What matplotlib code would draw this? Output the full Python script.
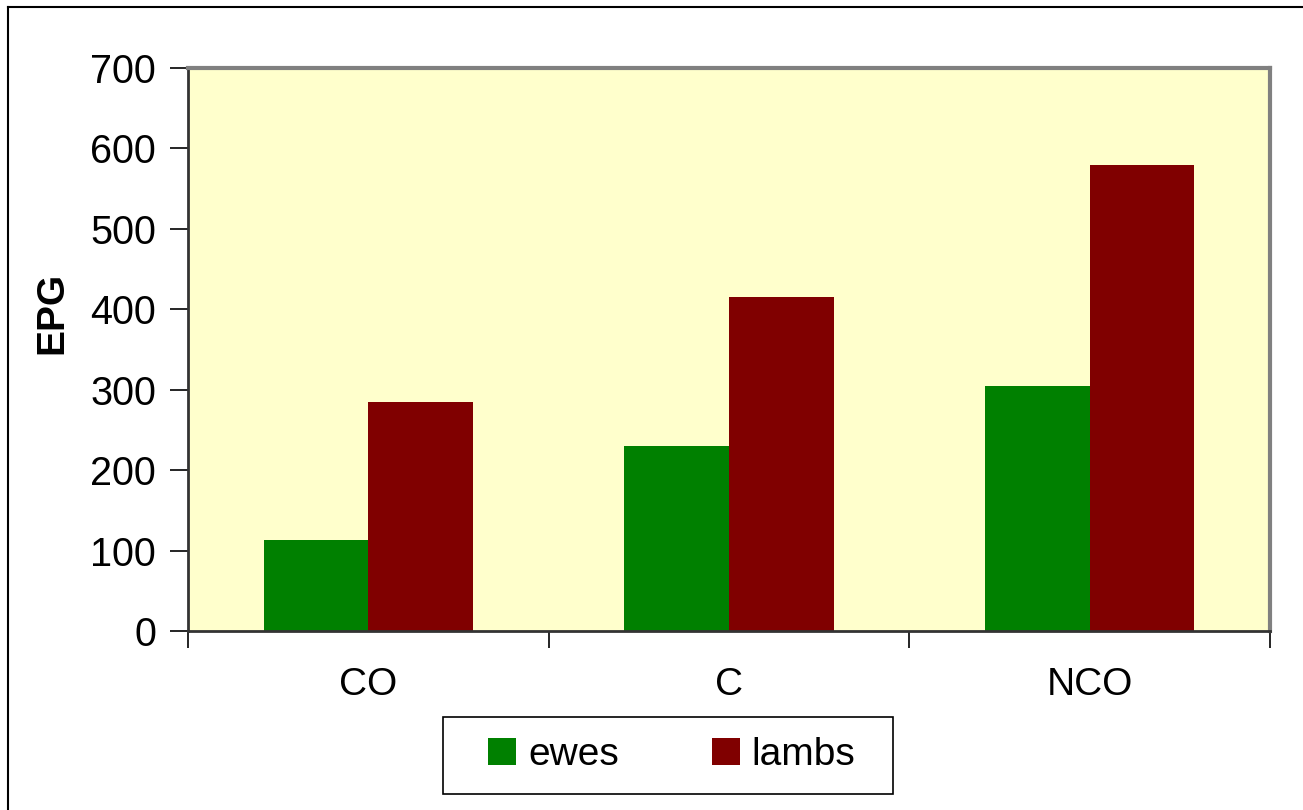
import matplotlib.pyplot as plt
from matplotlib.lines import Line2D
from matplotlib.patches import Rectangle
import numpy as np

plt.rcParams['font.family'] = ['Liberation Sans', 'DejaVu Sans']

categories = ["CO", "C", "NCO"]
ewes = [113, 230, 305]
lambs = [285, 415, 579]
yticks = [0, 100, 200, 300, 400, 500, 600, 700]

W, H = 1303, 810
fig = plt.figure(figsize=(W / 100, H / 100), dpi=100)
ax = fig.add_axes([188 / W, 1 - 631 / H, (1270 - 188) / W, (631 - 68) / H])
ax.set_facecolor("#FFFFCC")

x = np.arange(len(categories))
bw = 0.29
ax.bar(x - bw / 2, ewes, bw, color="#008000", label="ewes", linewidth=0)
ax.bar(x + bw / 2, lambs, bw, color="#800000", label="lambs", linewidth=0)

ax.set_xlim(-0.5, len(categories) - 0.5)
ax.set_ylim(0, 700)
ax.set_yticks(yticks)
ax.tick_params(axis="y", labelsize=28.5, length=13, width=1.2,
               direction="out", pad=10)

# category labels between boundary ticks
ax.set_xticks(x)
ax.set_xticklabels(categories, fontsize=28)
ax.tick_params(axis="x", which="major", length=0, pad=26)
ax.set_xticks(np.arange(-0.5, len(categories)), minor=True)
ax.tick_params(axis="x", which="minor", length=12, width=1.2, direction="out")

ax.spines["left"].set_color("#333333")
ax.spines["bottom"].set_color("#333333")
ax.spines["left"].set_linewidth(2)
ax.spines["bottom"].set_linewidth(2)
ax.spines["top"].set_color("#808080")
ax.spines["right"].set_color("#808080")
ax.spines["top"].set_linewidth(3)
ax.spines["right"].set_linewidth(3)

fig.text(52 / W, 1 - 313 / H, "EPG", rotation=90, fontsize=28,
         fontweight="bold", ha="center", va="center")

# legend box drawn separately, entries inside without frame
fig.add_artist(Rectangle((443 / W, 1 - 794 / H), 450 / W, 77 / H,
                         transform=fig.transFigure, facecolor="white",
                         edgecolor="black", linewidth=1.2, zorder=2))
leg = fig.legend(loc="center", bbox_to_anchor=(672 / W, 1 - 755 / H),
                 ncol=2, fontsize=28, frameon=False,
                 handlelength=0.72, handleheight=0.72, handletextpad=0.3,
                 columnspacing=2.4)
leg.set_zorder(3)

# outer chart border (left and top only visible)
fig.add_artist(Line2D([8 / W, 8 / W], [0, 1 - 7 / H], color="black",
                      linewidth=1.5, transform=fig.transFigure))
fig.add_artist(Line2D([8 / W, 1], [1 - 7 / H, 1 - 7 / H], color="black",
                      linewidth=1.5, transform=fig.transFigure))

fig.savefig("out.png", dpi=100)
